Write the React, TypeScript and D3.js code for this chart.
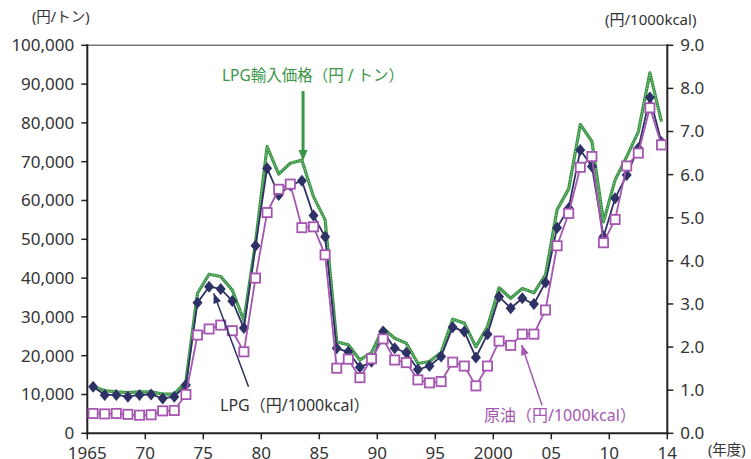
import React from 'react';
import * as d3 from 'd3';

const years = [
  1965, 1966, 1967, 1968, 1969, 1970, 1971, 1972, 1973, 1974,
  1975, 1976, 1977, 1978, 1979, 1980, 1981, 1982, 1983, 1984,
  1985, 1986, 1987, 1988, 1989, 1990, 1991, 1992, 1993, 1994,
  1995, 1996, 1997, 1998, 1999, 2000, 2001, 2002, 2003, 2004,
  2005, 2006, 2007, 2008, 2009, 2010, 2011, 2012, 2013, 2014,
];

// LPG輸入価格 (円/トン), left axis
const lpgImport = [
  12000, 11000, 10700, 10500, 10700, 10700, 10100, 10100, 13300, 36100,
  41000, 40400, 36900, 29000, 49000, 73900, 66800, 69600, 70400, 61000,
  55000, 23600, 22800, 18900, 20800, 27100, 24500, 23200, 18000, 18500,
  20800, 29400, 28400, 22300, 27500, 37500, 34800, 37300, 36200, 40800,
  57600, 63000, 79600, 75200, 54500, 65300, 71300, 77700, 92900, 80300,
];

// LPG (円/1000kcal), right axis
const lpgKcal = [
  1.08, 0.89, 0.89, 0.85, 0.89, 0.9, 0.81, 0.85, 1.12, 3.03,
  3.4, 3.35, 3.07, 2.44, 4.35, 6.15, 5.53, 5.75, 5.86, 5.05,
  4.56, 1.97, 1.89, 1.53, 1.66, 2.36, 1.97, 1.87, 1.48, 1.56,
  1.78, 2.46, 2.36, 1.76, 2.3, 3.17, 2.9, 3.13, 3.0, 3.5,
  4.77, 5.22, 6.57, 6.19, 4.56, 5.45, 5.99, 6.61, 7.79, 6.75,
];

// 原油 (円/1000kcal), right axis
const crudeKcal = [
  0.46, 0.45, 0.46, 0.44, 0.42, 0.43, 0.52, 0.53, 0.9, 2.28,
  2.42, 2.51, 2.38, 1.89, 3.6, 5.12, 5.66, 5.78, 4.77, 4.79,
  4.14, 1.51, 1.72, 1.29, 1.73, 2.19, 1.7, 1.64, 1.24, 1.17,
  1.2, 1.65, 1.56, 1.1, 1.56, 2.14, 2.04, 2.3, 2.3, 2.86,
  4.35, 5.1, 6.17, 6.42, 4.42, 4.96, 6.2, 6.5, 7.55, 6.69,
];

const xTicks = [1965, 1970, 1975, 1980, 1985, 1990, 1995, 2000, 2005, 2010, 2015];
const xTickLabels = ['1965', '70', '75', '80', '85', '90', '95', '2000', '05', '10', '14'];

const GREEN = '#3a9546';
const NAVY = '#2e3165';
const PURPLE = '#a456b0';
const TEXT = '#333';
const FONT = "'Noto Sans', 'Noto Sans CJK JP', sans-serif";

const left = 87.3;
const right = 667.3;
const top = 45.3;
const bottom = 433.3;

function arrowHead(x1: number, y1: number, x2: number, y2: number, len: number, half: number) {
  const a = Math.atan2(y2 - y1, x2 - x1);
  const bx = x2 - len * Math.cos(a);
  const by = y2 - len * Math.sin(a);
  const px = -Math.sin(a) * half;
  const py = Math.cos(a) * half;
  return `M${x2},${y2}L${bx + px},${by + py}L${bx - px},${by - py}Z`;
}

export default function App() {
  const x = d3.scaleLinear().domain([1965, 2015]).range([left, right]);
  const yL = d3.scaleLinear().domain([0, 100000]).range([bottom, top]);
  const yR = d3.scaleLinear().domain([0, 9]).range([bottom, top]);

  const cx = (i: number) => x(years[i] + 0.5);

  const greenLine = d3.line<number>().x((_, i) => cx(i)).y(d => yL(d))(lpgImport) || '';
  const navyLine = d3.line<number>().x((_, i) => cx(i)).y(d => yR(d))(lpgKcal) || '';
  const purpleLine = d3.line<number>().x((_, i) => cx(i)).y(d => yR(d))(crudeKcal) || '';

  // annotation arrows in data units
  const gA = { x1: x(1983.6), y1: yL(88200), x2: x(1983.6), y2: yL(70200) };
  const nA = { x1: x(1978.9), y1: yR(1.08), x2: x(1975.9), y2: yR(3.25) };
  const pA = { x1: x(2004.2), y1: yR(0.65), x2: x(2002.45), y2: yR(2.05) };

  return (
    <svg width={751} height={459} style={{ position: 'absolute', left: 0, top: 0, fontFamily: FONT }}>
      <rect width={751} height={459} fill="#fff" />

      {/* frame */}
      <line x1={left} x2={right} y1={top} y2={top} stroke="#7a7a7a" strokeWidth={1.5} />
      <line x1={left} x2={left} y1={top - 1} y2={bottom + 1} stroke="#222" strokeWidth={2} />
      <line x1={right} x2={right} y1={top - 1} y2={bottom + 1} stroke="#222" strokeWidth={2} />
      <line x1={left - 1} x2={right + 1} y1={bottom} y2={bottom} stroke="#222" strokeWidth={2} />

      {/* left axis */}
      {yL.ticks(10).map(t => (
        <g key={'l' + t}>
          <line x1={left - 6} x2={left} y1={yL(t)} y2={yL(t)} stroke="#222" strokeWidth={1.5} />
          <text x={left - 13} y={yL(t)} dy="0.35em" textAnchor="end" fontSize={17} fill={TEXT}>
            {d3.format(',')(t)}
          </text>
        </g>
      ))}
      <text x={32} y={22} fontSize={14.5} fill={TEXT}>(円/トン)</text>

      {/* right axis */}
      {yR.ticks(9).map(t => (
        <g key={'r' + t}>
          <line x1={right} x2={right + 6} y1={yR(t)} y2={yR(t)} stroke="#222" strokeWidth={1.5} />
          <text x={right + 13} y={yR(t)} dy="0.35em" textAnchor="start" fontSize={17} fill={TEXT}>
            {d3.format('.1f')(t)}
          </text>
        </g>
      ))}
      <text x={605} y={25} fontSize={15} fill={TEXT}>(円/1000kcal)</text>

      {/* x axis */}
      {xTicks.map((t, i) => (
        <g key={'x' + t}>
          <line x1={x(t)} x2={x(t)} y1={bottom} y2={bottom + 6} stroke="#222" strokeWidth={1.5} />
          <text x={x(t)} y={459} textAnchor="middle" fontSize={17} fill={TEXT}>
            {xTickLabels[i]}
          </text>
        </g>
      ))}
      <text x={708} y={455} fontSize={14.5} fill={TEXT}>(年度)</text>

      {/* LPG import price, dotted green */}
      <path d={greenLine} fill="none" stroke={GREEN} strokeWidth={3.2} strokeLinejoin="round" />
      <path d={greenLine} fill="none" stroke="#b9e2b4" strokeWidth={1} strokeDasharray="1,1.6" />

      {/* LPG per 1000kcal */}
      <path d={navyLine} fill="none" stroke={NAVY} strokeWidth={1.8} />
      {lpgKcal.map((v, i) => (
        <path key={'d' + i} transform={`translate(${cx(i)},${yR(v)})`} d="M0,-6L5,0L0,6L-5,0Z" fill={NAVY} />
      ))}

      {/* crude oil per 1000kcal */}
      <path d={purpleLine} fill="none" stroke={PURPLE} strokeWidth={1.8} />
      {crudeKcal.map((v, i) => (
        <rect key={'s' + i} x={cx(i) - 4.6} y={yR(v) - 4.6} width={9.2} height={9.2}
          fill="#fff" stroke={PURPLE} strokeWidth={1.8} />
      ))}

      {/* annotations */}
      <line x1={gA.x1} y1={gA.y1} x2={gA.x2} y2={gA.y2 - 8} stroke={GREEN} strokeWidth={3} />
      <path d={arrowHead(gA.x1, gA.y1, gA.x2, gA.y2, 11, 4.5)} fill={GREEN} />
      <text x={222} y={81} fontSize={15.5} fill={GREEN}>LPG輸入価格（円 / トン）</text>

      <line x1={nA.x1} y1={nA.y1} x2={nA.x2} y2={nA.y2} stroke={NAVY} strokeWidth={1.5} />
      <path d={arrowHead(nA.x1, nA.y1, nA.x2, nA.y2, 10, 4)} fill={NAVY} />
      <text x={220} y={411} fontSize={16} fill={TEXT}>LPG（円/1000kcal）</text>

      <line x1={pA.x1} y1={pA.y1} x2={pA.x2} y2={pA.y2} stroke={PURPLE} strokeWidth={1.5} />
      <path d={arrowHead(pA.x1, pA.y1, pA.x2, pA.y2, 10, 4)} fill={PURPLE} />
      <text x={484} y={421} fontSize={16} fill={PURPLE}>原油（円/1000kcal）</text>
    </svg>
  );
}
